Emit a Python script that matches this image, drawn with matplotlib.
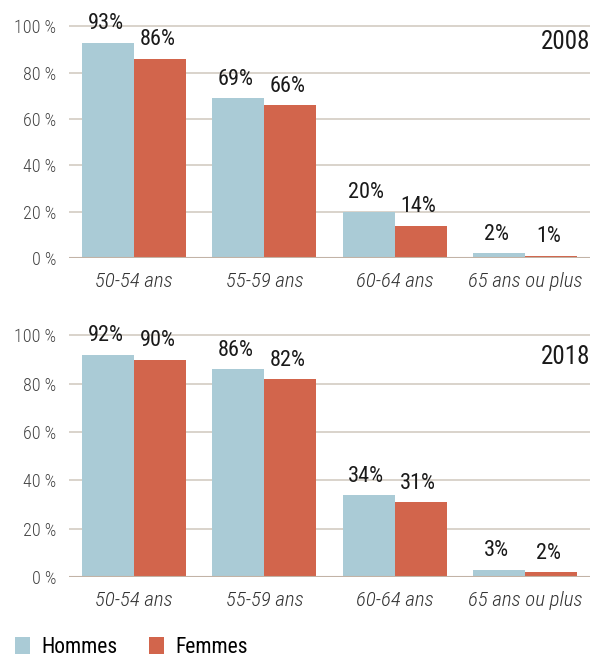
import matplotlib.pyplot as plt
import numpy as np
from matplotlib import font_manager

# police : Roboto Condensed si dispo, sinon Roboto
names = set(f.name for f in font_manager.fontManager.ttflist)
font = 'Roboto Condensed' if 'Roboto Condensed' in names else 'Roboto'
plt.rcParams['font.family'] = [font, 'DejaVu Sans']

# données
categories = ['50-54 ans', '55-59 ans', '60-64 ans', '65 ans ou plus']
years = ['2008', '2018']
hommes = [[93, 69, 20, 2], [92, 86, 34, 3]]
femmes = [[86, 66, 14, 1], [90, 82, 31, 2]]
yticks = [0, 20, 40, 60, 80, 100]

c_h = '#aacbd6'
c_f = '#d2654c'
grid_c = '#d3ccc2'

fig = plt.figure(figsize=(6.04, 6.62), dpi=100)
ax1 = fig.add_axes([0.1142, 0.6103, 0.8626, 0.352])
ax2 = fig.add_axes([0.1142, 0.1284, 0.8626, 0.367])

x = np.arange(len(categories))
w = 0.4
year_y = [0.925, 0.907]

for i, ax in enumerate([ax1, ax2]):
    bh = ax.bar(x - w / 2, hommes[i], w, color=c_h, zorder=3, label='Hommes')
    bf = ax.bar(x + w / 2, femmes[i], w, color=c_f, zorder=3, label='Femmes')
    for b, v in zip(bh, hommes[i]):
        ax.annotate(f'{v}%', (b.get_x() + b.get_width() / 2 - 0.02, v), xytext=(0, 6),
                    textcoords='offset points', ha='center', va='bottom',
                    fontsize=16, color='#1a1a1a', clip_on=False)
    for b, v in zip(bf, femmes[i]):
        ax.annotate(f'{v}%', (b.get_x() + b.get_width() / 2 - 0.02, v), xytext=(0, 6),
                    textcoords='offset points', ha='center', va='bottom',
                    fontsize=16, color='#1a1a1a', clip_on=False)
    ax.set_xlim(-0.5, 3.5)
    ax.set_ylim(0, 100.6)
    ax.set_yticks(yticks)
    ax.set_yticklabels([f'{t} %' for t in yticks], fontsize=13, color='#444444',
                       fontweight='light')
    ax.set_xticks(x)
    ax.set_xticklabels(categories, fontsize=15, color='#333333', style='italic',
                       fontweight='light')
    ax.tick_params(axis='y', length=0, pad=9)
    ax.tick_params(axis='x', length=0, pad=10)
    for t in yticks[1:]:
        ax.axhline(t, color=grid_c, lw=1.2, zorder=1)
    ax.axhline(0, color='#c2b3a6', lw=1.5, zorder=4)
    for s in ax.spines.values():
        s.set_visible(False)
    ax.text(1.0, year_y[i], years[i], transform=ax.transAxes, ha='right', va='center',
            fontsize=18, color='#1a1a1a')

fig.legend(handles=[bh, bf], labels=['Hommes', 'Femmes'], loc='lower left',
           bbox_to_anchor=(0.025, 0.006), ncol=2, frameon=False, fontsize=15.5,
           borderpad=0, borderaxespad=0,
           handlelength=0.67, handleheight=0.82, handletextpad=0.53, columnspacing=1.5)

fig.savefig('out.png', dpi=100, facecolor='white')
